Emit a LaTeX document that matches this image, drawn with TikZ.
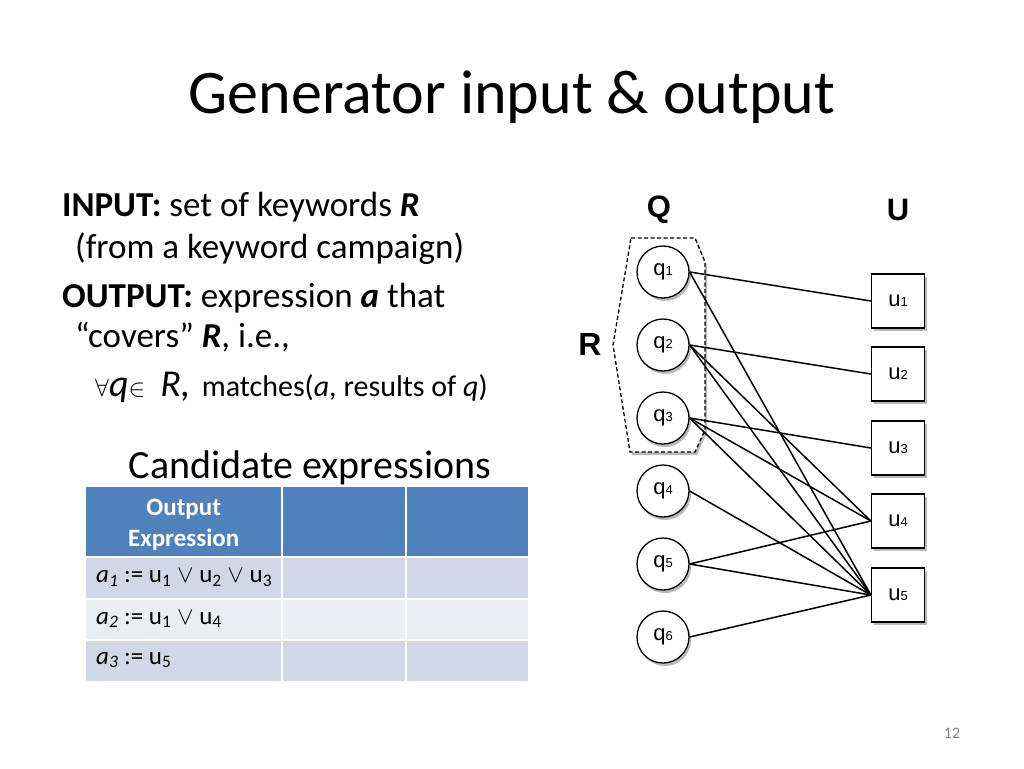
\documentclass[tikz,border=0pt]{standalone}
\usepackage{fontspec}
\setmainfont{Carlito}
\newfontfamily\graphfont{Liberation Sans}
\usetikzlibrary{shadows}
\definecolor{hdrblue}{RGB}{79,129,189}
\definecolor{rowdark}{RGB}{208,216,232}
\definecolor{rowlight}{RGB}{233,237,244}
\newcommand{\idx}[1]{{\fontsize{13}{13}\selectfont #1}}

\tikzset{
  shade/.style={drop shadow={shadow xshift=2pt, shadow yshift=-3pt, opacity=0.55}},
  qnode/.style={circle, draw, line width=1.3pt, fill=white, minimum size=52pt, inner sep=0pt,
    font=\graphfont\fontsize{22}{22}\selectfont, shade},
  unode/.style={rectangle, draw, line width=1.3pt, fill=white, minimum width=53pt, minimum height=54pt,
    inner sep=0pt, font=\graphfont\fontsize{22}{22}\selectfont, shade},
  link/.style={line width=1.5pt},
  cell/.style={rectangle, anchor=north west, inner sep=0pt},
  body/.style={anchor=base west, inner sep=0pt, font=\fontsize{35}{42}\selectfont},
  rowtext/.style={anchor=west, inner sep=0pt, font=\fontsize{25}{30}\selectfont},
}

\begin{document}
\begin{tikzpicture}[x=1pt, y=-1pt]
    \useasboundingbox (0,0) rectangle (1024,768);
    \fill[white] (0,0) rectangle (1024,768);

    % Title
    \node[font=\fontsize{62}{72}\selectfont] (title) at (512,97) {Generator input \& output};

    % Input / output text
    \node[body] (input) at (62,216) {\textbf{INPUT:} set of keywords \textbf{\textit{R}}};
    \node[body] (input2) at (75,258) {(from a keyword campaign)};
    \node[body] (output) at (62,307) {\textbf{OUTPUT:} expression \textbf{\textit{a}} that};
    \node[body] (output2) at (75,347) {“covers” \textbf{\textit{R}}, i.e.,};
    \node[body, font=\fontsize{38}{42}\selectfont] (cond) at (95,396)
        {$\forall$\textit{q}$\in$\hspace{0.4em}\textit{R,}\hspace{0.3em}{\fontsize{30}{34}\selectfont matches(\textit{a}, results of \textit{q})}};

    % Candidate table
    \node[anchor=base, font=\fontsize{40}{48}\selectfont] (cand) at (310,478) {Candidate expressions};
    \node[cell, fill=hdrblue, minimum width=195pt, minimum height=69pt] (h1) at (86,487) {};
    \node[cell, fill=hdrblue, minimum width=122pt, minimum height=69pt] (h2) at (283,487) {};
    \node[cell, fill=hdrblue, minimum width=121pt, minimum height=69pt] (h3) at (407,487) {};
    \node[cell, fill=rowdark, minimum width=195pt, minimum height=40pt] (r11) at (86,558) {};
    \node[cell, fill=rowdark, minimum width=122pt, minimum height=40pt] (r12) at (283,558) {};
    \node[cell, fill=rowdark, minimum width=121pt, minimum height=40pt] (r13) at (407,558) {};
    \node[cell, fill=rowlight, minimum width=195pt, minimum height=39pt] (r21) at (86,600) {};
    \node[cell, fill=rowlight, minimum width=122pt, minimum height=39pt] (r22) at (283,600) {};
    \node[cell, fill=rowlight, minimum width=121pt, minimum height=39pt] (r23) at (407,600) {};
    \node[cell, fill=rowdark, minimum width=195pt, minimum height=40pt] (r31) at (86,641) {};
    \node[cell, fill=rowdark, minimum width=122pt, minimum height=40pt] (r32) at (283,641) {};
    \node[cell, fill=rowdark, minimum width=121pt, minimum height=40pt] (r33) at (407,641) {};
    \node[white, align=center, font=\bfseries\fontsize{25}{31}\selectfont] (hdr) at ([yshift=-3pt]h1.center) {Output\\Expression};
    \node[rowtext] (a1) at (96,578)
        {\textit{a\textsubscript{1}} := u\textsubscript{1} $\vee$ u\textsubscript{2} $\vee$ u\textsubscript{3}};
    \node[rowtext] (a2) at (96,619)
        {\textit{a\textsubscript{2}} := u\textsubscript{1} $\vee$ u\textsubscript{4}};
    \node[rowtext] (a3) at (96,660)
        {\textit{a\textsubscript{3}} := u\textsubscript{5}};

    % Keyword set R
    \draw[line width=1.3pt, dash pattern=on 4pt off 2.5pt, fill=white, shade]
        (631,238) -- (695,238) -- (705,262) -- (705,430) -- (695,452) -- (630,452) -- (613,345) -- cycle;
    \node[font=\graphfont\bfseries\fontsize{32}{32}\selectfont] (Rlab) at (590,344) {R};
    \node[font=\graphfont\bfseries\fontsize{31}{31}\selectfont] (Qlab) at (659,210) {Q};
    \node[font=\graphfont\bfseries\fontsize{31}{31}\selectfont] (Ulab) at (898,210) {U};

    % Queries
    \node[qnode] (q1) at (663,272) {q\idx{1}};
    \node[qnode] (q2) at (663,345) {q\idx{2}};
    \node[qnode] (q3) at (663,418) {q\idx{3}};
    \node[qnode] (q4) at (663,491) {q\idx{4}};
    \node[qnode] (q5) at (663,564) {q\idx{5}};
    \node[qnode] (q6) at (663,637) {q\idx{6}};

    % URLs
    \node[unode] (u1) at (898,301) {u\idx{1}};
    \node[unode] (u2) at (898,374) {u\idx{2}};
    \node[unode] (u3) at (898,448) {u\idx{3}};
    \node[unode] (u4) at (898,521) {u\idx{4}};
    \node[unode] (u5) at (898,595) {u\idx{5}};

    % Clicks
    \draw[link] (q1.east) -- (u1.west);
    \draw[link] (q1.east) -- (u5.west);
    \draw[link] (q2.east) -- (u2.west);
    \draw[link] (q2.east) -- (u4.west);
    \draw[link] (q2.east) -- (u5.west);
    \draw[link] (q3.east) -- (u3.west);
    \draw[link] (q3.east) -- (u4.west);
    \draw[link] (q3.east) -- (u5.west);
    \draw[link] (q4.east) -- (u5.west);
    \draw[link] (q5.east) -- (u4.west);
    \draw[link] (q5.east) -- (u5.west);
    \draw[link] (q6.east) -- (u5.west);

    % Slide number
    \node[gray, font=\fontsize{16}{18}\selectfont] (num) at (952,733) {12};
\end{tikzpicture}
\end{document}
